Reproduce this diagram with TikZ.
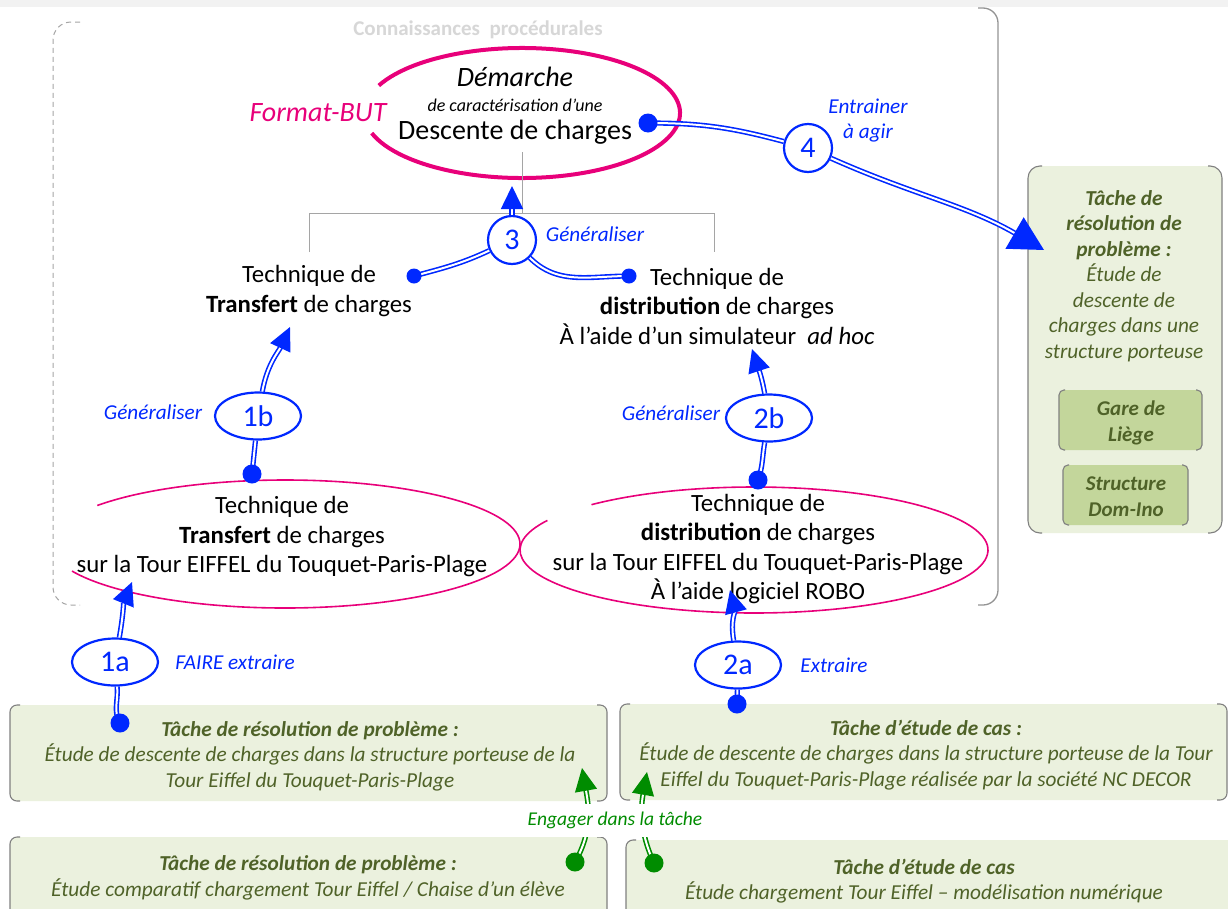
\documentclass[tikz,border=0pt]{standalone}
\usepackage{fontspec}
\setmainfont{Carlito}
\usetikzlibrary{arrows.meta,shapes.geometric}
\definecolor{myblue}{RGB}{0,40,255}
\definecolor{mag}{RGB}{232,0,122}
\definecolor{boxfill}{RGB}{235,241,222}
\definecolor{innerfill}{RGB}{195,214,155}
\definecolor{olive}{RGB}{79,98,40}
\definecolor{brd}{RGB}{128,128,128}
\definecolor{grn}{RGB}{0,140,0}
\definecolor{topgray}{RGB}{242,242,242}
\definecolor{ttlgray}{RGB}{215,215,215}
\definecolor{treegray}{RGB}{165,165,165}
\newcommand\fsz[2]{\fontsize{#1}{#2}\selectfont}
\begin{document}
\begin{tikzpicture}[x=1pt,y=-1pt,
  txt/.style={font=\fsz{24.8}{29.5}, align=center, inner sep=0pt},
  lbl/.style={text=myblue, font=\fsz{21.2}{25}\itshape, inner sep=0pt, align=center},
  boxtxt/.style={text=olive, font=\fsz{21.3}{25.5}\itshape, align=center, inner sep=0pt},
  numell/.style={ellipse, draw=myblue, line width=2.2pt, fill=white, text=myblue,
     font=\fsz{30}{30}, minimum width=86pt, minimum height=47pt, inner sep=0pt},
  numcirc/.style={circle, draw=myblue, line width=2.2pt, fill=white, text=myblue,
     font=\fsz{30}{30}, minimum size=48pt, inner sep=0pt},
  dline/.style={draw=myblue, line width=1.6pt, double=white, double distance=2pt},
  gline/.style={draw=grn, line width=1.6pt, double=white, double distance=2pt},
  bdot/.style={circle, fill=myblue, minimum size=19pt, inner sep=0pt},
  sdot/.style={circle, fill=myblue, minimum size=15pt, inner sep=0pt},
  gdot/.style={circle, fill=grn, minimum size=19pt, inner sep=0pt},
  tipS/.style={-{Triangle[length=23pt,width=22pt]}},
  tipL/.style={-{Triangle[length=34pt,width=36pt]}},
  brk/.style={draw=brd, line width=1.1pt, rounded corners=7pt},
]
\useasboundingbox (0,0) rectangle (1228,908);
\clip (0,0) rectangle (1228,908);
\fill[white] (0,0) rectangle (1228,908);
\fill[topgray] (0,0) rectangle (1228,7);

% procedural knowledge frame
\draw[treegray, line width=1pt, dash pattern=on 5pt off 4pt, rounded corners=18pt]
  (80,22) -- (53,22) -- (53,605) -- (80,605);
\draw[treegray!90!black, line width=1.3pt, rounded corners=15pt]
  (978,8) -- (998,8) -- (998,605) -- (978,605);
\node[text=ttlgray, font=\fsz{21}{24}\bfseries, inner sep=0pt] (ttl) at (478,30) {Connaissances\ \ procédurales};

% big ellipse
\draw[mag, line width=4pt] ({522+158*cos(205)},{113+65*sin(205)})
  arc[start angle=205, end angle=522, x radius=158, y radius=65];
\node[text=mag, font=\fsz{28}{30}\itshape, inner sep=0pt] (fbut) at (318,113) {Format-BUT};
\node[font=\fsz{28}{30}\itshape, inner sep=0pt] (dem) at (515,77) {Démarche};
\node[font=\fsz{18}{20}\itshape, inner sep=0pt] (carac) at (515,105) {de caractérisation d’une};
\node[font=\fsz{28}{30}, inner sep=0pt] (desc) at (515,132) {Descente de charges};

% tree
\draw[treegray, line width=1pt] (522,152) -- (522,213);
\draw[treegray, line width=1pt] (309,252) -- (309,213) -- (714,213) -- (714,252);

% middle texts
\node[txt] (tt) at (309,291) {Technique de\\\textbf{Transfert} de charges};
\node[txt] (td) at (717,306) {Technique de\\\textbf{distribution} de charges\\À l’aide d’un simulateur~ \textit{ad hoc}};

% lower ellipses
\draw[mag, line width=1.6pt] ({285+235*cos(217)},{544+64*sin(217)})
  arc[start angle=217, end angle=515, x radius=235, y radius=64];
\draw[mag, line width=1.6pt] ({754+234*cos(226)},{550+63*sin(226)})
  arc[start angle=226, end angle=568, x radius=234, y radius=63];
\node[txt] (et) at (282,537) {Technique de\\\textbf{Transfert} de charges\\sur la Tour EIFFEL du Touquet-Paris-Plage};
\node[txt] (ed) at (758,549) {Technique de\\\textbf{distribution} de charges\\sur la Tour EIFFEL du Touquet-Paris-Plage\\À l’aide logiciel ROBO};

% bottom boxes
\fill[boxfill, rounded corners=7pt] (10,705) rectangle (607,801);
\draw[brk] (20,705) -- (10,705) -- (10,801) -- (20,801);
\draw[brk] (597,705) -- (607,705) -- (607,801) -- (597,801);
\fill[boxfill, rounded corners=7pt] (620,704) rectangle (1227,800);
\draw[brk] (630,704) -- (620,704) -- (620,800) -- (630,800);
\draw[brk] (1217,704) -- (1227,704) -- (1227,800) -- (1217,800);
\fill[boxfill, rounded corners=7pt] (10,837) rectangle (607,930);
\draw[brk] (20,837) -- (10,837) -- (10,930);
\draw[brk] (597,837) -- (607,837) -- (607,930);
\fill[boxfill, rounded corners=7pt] (626,840) rectangle (1240,930);
\draw[brk] (636,840) -- (626,840) -- (626,930);

\node[boxtxt] (b1) at (310,756) {\textbf{Tâche de résolution de problème :}\\Étude de descente de charges dans la structure porteuse de la\\Tour Eiffel du Touquet-Paris-Plage};
\node[boxtxt] (b2) at (926,755) {\textbf{Tâche d’étude de cas :}\\Étude de descente de charges dans la structure porteuse de la Tour\\Eiffel du Touquet-Paris-Plage réalisée par la société NC DECOR};
\node[boxtxt] (b3) at (308,878) {\textbf{Tâche de résolution de problème :}\\Étude comparatif chargement Tour Eiffel / Chaise d’un élève};
\node[boxtxt] (b4) at (924,881) {\textbf{Tâche d’étude de cas}\\Étude chargement Tour Eiffel – modélisation numérique};

% right box
\fill[boxfill, rounded corners=12pt] (1028,166) rectangle (1222,533);
\draw[brk, rounded corners=12pt] (1042,166) -- (1028,166) -- (1028,533) -- (1042,533);
\draw[brk, rounded corners=12pt] (1208,166) -- (1222,166) -- (1222,533) -- (1208,533);
\node[boxtxt] (rb) at (1124,276) {\textbf{Tâche de}\\\textbf{résolution de}\\\textbf{problème :}\\Étude de\\descente de\\charges dans une\\structure porteuse};
\fill[innerfill, rounded corners=5pt] (1059,390) rectangle (1202,450);
\draw[brk, rounded corners=5pt] (1065,390) -- (1059,390) -- (1059,450) -- (1065,450);
\draw[brk, rounded corners=5pt] (1196,390) -- (1202,390) -- (1202,450) -- (1196,450);
\node[boxtxt, font=\fsz{21}{26}\bfseries\itshape] (gare) at (1131,423) {Gare de\\Liège};
\fill[innerfill, rounded corners=5pt] (1063,465) rectangle (1188,525);
\draw[brk, rounded corners=5pt] (1069,465) -- (1063,465) -- (1063,525) -- (1069,525);
\draw[brk, rounded corners=5pt] (1182,465) -- (1188,465) -- (1188,525) -- (1182,525);
\node[boxtxt, font=\fsz{21}{26}\bfseries\itshape] (dom) at (1126,497) {Structure\\Dom-Ino};

% labels
\node[lbl] (l4) at (868,121) {Entrainer\\à agir};
\node[lbl] (l3) at (595,234) {Généraliser};
\node[lbl] (l1b) at (153,412) {Généraliser};
\node[lbl] (l2b) at (671,413) {Généraliser};
\node[lbl] (l1a) at (235,662) {FAIRE extraire};
\node[lbl] (l2a) at (834,665) {Extraire};

% anchor points
\coordinate (p4) at (648,123);
\coordinate (t4) at (1044,250);
\coordinate (t3) at (512,186);
\coordinate (p3l) at (414,276);
\coordinate (p3r) at (629,276);
\coordinate (p1b) at (252,474);
\coordinate (t1b) at (290,327);
\coordinate (p2b) at (758,480);
\coordinate (t2b) at (752,349);
\coordinate (p1a) at (120,723);
\coordinate (t1a) at (132,582);
\coordinate (p2a) at (737,704);
\coordinate (t2a) at (730,590);
\coordinate (pg1) at (575,862);
\coordinate (tg1) at (582,768);
\coordinate (pg2) at (654,863);
\coordinate (tg2) at (647,772);

% number nodes
\node[numcirc] (n4) at (808,148) {4};
\node[numcirc] (n3) at (512,240) {3};
\node[numell] (n1b) at (258,416) {1b};
\node[numell] (n2b) at (769,418) {2b};
\node[numell] (n1a) at (115,662) {1a};
\node[numell] (n2a) at (738,665) {2a};

% connectors
\draw[dline] (p4) to[out=0,in=165] (n4);
\draw[dline, tipL] (n4) to[out=-24,in=150] (t4);
\draw[dline, tipS] (n3) -- (t3);
\draw[dline] (n3) to[out=205,in=15] (p3l);
\draw[dline] (n3) to[out=-45,in=180] (p3r);
\draw[dline] (p1b) -- (n1b);
\draw[dline, tipS] (n1b) to[out=80,in=-115] (t1b);
\draw[dline] (p2b) to[out=70,in=-100] (n2b);
\draw[dline, tipS] (n2b) to[out=100,in=-72] (t2b);
\draw[dline] (p1a) to[out=120,in=-85] (n1a);
\draw[dline, tipS] (n1a) to[out=80,in=-112] (t1a);
\draw[dline] (p2a) -- (n2a);
\draw[dline, tipS] (n2a) to[out=100,in=-75] (t2a);
\draw[gline, tipS] (pg1) to[out=60,in=-80] (tg1);
\draw[gline, tipS] (pg2) to[out=115,in=-100] (tg2);

% dots
\foreach \p in {p4,p1b,p2b,p1a,p2a} \node[bdot] at (\p) {};
\foreach \p in {p3l,p3r} \node[sdot] at (\p) {};
\foreach \p in {pg1,pg2} \node[gdot] at (\p) {};

\node[text=grn, font=\fsz{19.5}{22}\itshape, fill=white, inner xsep=3pt, minimum height=33pt] (eng) at (615,820) {Engager dans la tâche};
\end{tikzpicture}
\end{document}
